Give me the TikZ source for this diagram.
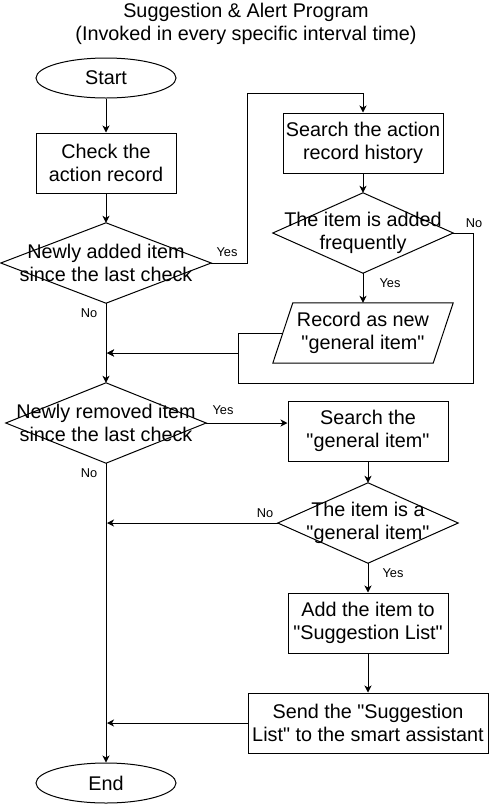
\documentclass[tikz,border=0pt]{standalone}
\usepackage{fontspec}
\setmainfont{Liberation Sans}[Ligatures=TeXOff]
\usetikzlibrary{arrows.meta,calc,shapes.geometric}
\begin{document}
\begin{tikzpicture}[x=1pt,y=-1pt,
  every node/.style={font=\fontsize{19.8}{23.5}\selectfont, align=center, inner sep=0pt},
  shp/.style={draw=black, line width=1pt},
  box/.style={shp, minimum width=#1, minimum height=60pt},
  term/.style={shp, ellipse, minimum width=140pt, minimum height=40pt},
  dtxt/.style={minimum width=#1, minimum height=80pt},
  lbl/.style={font=\fontsize{12.8}{15}\selectfont},
  arr/.style={draw=black, line width=1pt, -{Stealth[length=7pt,width=7pt,inset=2pt]}},
  ln/.style={draw=black, line width=1pt}]
\useasboundingbox (0,0) rectangle (494,804);

\node (title) at (246,24) {Suggestion \& Alert Program\\(Invoked in every specific interval time)};

\node[term] (start) at (106,78) {Start};
\node[box=140pt] (check) at (106,163) {Check the\\action record};
\node[dtxt=210pt] (d1) at (106,263) {};
\draw[shp] (d1.north) -- (d1.east) -- (d1.south) -- (d1.west) -- cycle;
\node at (d1) {Newly added item\\since the last check};

\node[box=160pt] (s1) at (363,143) {Search the action\\record history};
\node[dtxt=180pt] (d2) at (363,233) {};
\draw[shp] (d2.north) -- (d2.east) -- (d2.south) -- (d2.west) -- cycle;
\node at (d2) {The item is added\\frequently};

\node[minimum width=180pt, minimum height=60pt] (para) at (363,333) {};
\draw[shp] ($(para.north west)+(20,0)$) -- (para.north east) -- ($(para.south east)+(-20,0)$) -- (para.south west) -- cycle;
\node at (para) {Record as new\\"general item"};

\node[dtxt=200pt] (d3) at (106,423) {};
\draw[shp] (d3.north) -- (d3.east) -- (d3.south) -- (d3.west) -- cycle;
\node at (d3) {Newly removed item\\since the last check};

\node[box=160pt] (s2) at (368,431) {Search the\\"general item"};
\node[dtxt=180pt] (d4) at (368,523) {};
\draw[shp] (d4.north) -- (d4.east) -- (d4.south) -- (d4.west) -- cycle;
\node at (d4) {The item is a\\"general item"};

\node[box=160pt] (add) at (368,623) {Add the item to\\"Suggestion List"};
\node[box=240pt] (send) at (368,723) {Send the "Suggestion\\List" to the smart assistant};
\node[term] (end) at (106,783) {End};

% coordinates
\coordinate (c1) at (247,93);
\coordinate (pl) at ($(para.west)+(10,0)$);
\coordinate (c2) at (238,353);
\coordinate (c3) at (473,383);
\coordinate (j1) at (107,353);
\coordinate (j2) at (107,523);
\coordinate (j3) at (107,723);

% connectors
\draw[arr] (start) -- (check);
\draw[arr] (check) -- (d1);
\draw[arr] (d1.east) -| (c1) -| (s1.north);
\draw[arr] (s1) -- (d2);
\draw[arr] (d2) -- (para);
\draw[arr] (pl) -| (c2) -- (j1);
\draw[arr] (d2.east) -| (c3) -| (c2) -- (j1);
\draw[arr] (d1) -- (d3);
\draw[arr] (d3) -- (end);
\draw[arr] (d3.east) -- (s2.west |- d3.east);
\draw[arr] (s2) -- (d4);
\draw[arr] (d4.west) -- (j2);
\draw[arr] (d4) -- (add);
\draw[arr] (add) -- (send);
\draw[arr] (send.west) -- (j3);

% labels
\node[lbl] (l1) at (227,252) {Yes};
\node[lbl] (l2) at (89,313) {No};
\node[lbl] (l3) at (474,223) {No};
\node[lbl] (l4) at (390,283) {Yes};
\node[lbl] (l5) at (223,410) {Yes};
\node[lbl] (l6) at (89,473) {No};
\node[lbl] (l7) at (265,513) {No};
\node[lbl] (l8) at (393,573) {Yes};
\end{tikzpicture}
\end{document}
